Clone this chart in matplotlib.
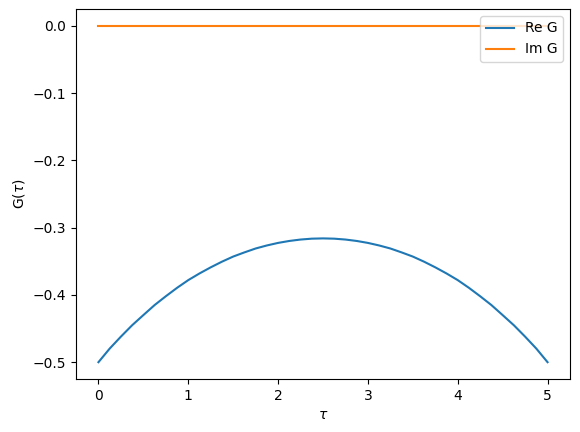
import matplotlib
matplotlib.use("Agg")
import matplotlib.pyplot as plt

tau = [0.0, 0.125, 0.25, 0.375, 0.5, 0.625, 0.75, 0.875, 1.0, 1.125, 1.25, 1.375,
       1.5, 1.625, 1.75, 1.875, 2.0, 2.125, 2.25, 2.375, 2.5,
       2.625, 2.75, 2.875, 3.0, 3.125, 3.25, 3.375, 3.5, 3.625, 3.75, 3.875,
       4.0, 4.125, 4.25, 4.375, 4.5, 4.625, 4.75, 4.875, 5.0]
re_g = [-0.500, -0.4798, -0.462, -0.4451, -0.430, -0.4151, -0.402, -0.3895,
        -0.378, -0.3681, -0.359, -0.3506, -0.343, -0.3368, -0.331, -0.3265,
        -0.3227, -0.3198, -0.3177, -0.3164, -0.316,
        -0.3164, -0.3177, -0.3198, -0.3227, -0.3265, -0.331, -0.3368, -0.343,
        -0.3506, -0.359, -0.3681, -0.378, -0.3895, -0.402, -0.4151, -0.430,
        -0.4451, -0.462, -0.4798, -0.500]
im_g = [0.0] * len(tau)

fig = plt.figure(figsize=(5.8, 4.32), dpi=100)
ax = fig.add_axes([76/580, 1 - 379/432, (570-76)/580, (379-9)/432])
ax.plot(tau, re_g, label="Re G")
ax.plot(tau, im_g, label="Im G")
ax.set_xlabel(r"$\tau$")
ax.set_ylabel(r"G($\tau$)")
ax.legend(loc="upper right")
fig.savefig("out.png", dpi=100)
